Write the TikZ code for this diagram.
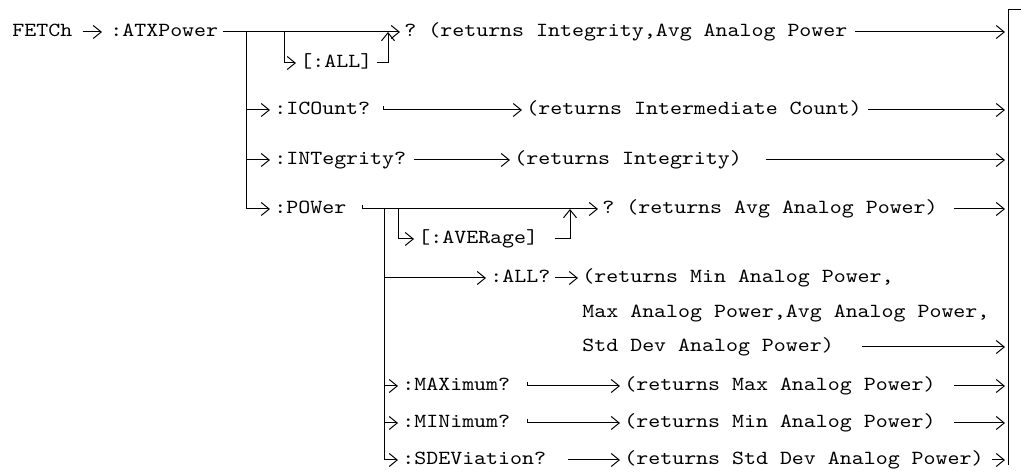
\documentclass[tikz,border=0pt]{standalone}
\usepackage{fontspec}
\newfontfamily\cmdfont{lmmono10-regular.otf}[FakeStretch=1.14]
\usetikzlibrary{arrows.meta,calc}

\begin{document}
\begin{tikzpicture}[
  x=0.5pt, y=-0.5pt,
  cmd/.style={anchor=west,inner xsep=2pt,inner ysep=0pt,
              font=\cmdfont\fontsize{10pt}{12pt}\selectfont,
              text height=7pt,text depth=2.5pt},
  ln/.style={line width=0.5pt},
  ar/.style={ln,-{Straight Barb[length=4pt,width=6.5pt]}}
]
\useasboundingbox (0,0) rectangle (1021,474);

% FETCh:ATXPower branch
\node[cmd] (fetch) at (8,32) {FETCh};
\node[cmd] (atx) at (106,32) {:ATXPower};
\node[cmd] (allopt) at (296,63) {[:ALL]};
\node[cmd] (q1) at (400,32) {?};
\node[cmd] (ret1) at (424,32) {(returns Integrity,Avg Analog Power};
\node[cmd] (icount) at (270,110) {:ICOunt?};
\node[cmd] (ret2) at (522,110) {(returns Intermediate Count)};
\node[cmd] (integ) at (270,160) {:INTegrity?};
\node[cmd] (ret3) at (510,160) {(returns Integrity)};
\node[cmd] (power) at (270,209) {:POWer};
\node[cmd] (q2) at (598,209) {?};
\node[cmd] (ret4) at (622,209) {(returns Avg Analog Power)};

% :POWer subtree
\node[cmd] (aver) at (414,239) {[:AVERage]};
\node[cmd] (pall) at (486,278) {:ALL?};
\node[cmd] (ret5a) at (578,278) {(returns Min Analog Power,};
\node[cmd] (ret5b) at (578,313) {Max Analog Power,Avg Analog Power,};
\node[cmd] (ret5c) at (578,347) {Std Dev Analog Power)};
\node[cmd] (pmax) at (398,386) {:MAXimum?};
\node[cmd] (ret6) at (620,386) {(returns Max Analog Power)};
\node[cmd] (pmin) at (398,423) {:MINimum?};
\node[cmd] (ret7) at (620,423) {(returns Min Analog Power)};
\node[cmd] (psdev) at (398,460) {:SDEViation?};
\node[cmd] (ret8) at (620,460) {(returns Std Dev Analog Power)};

\coordinate (trunk) at (246,32);
\coordinate (allx) at (284,32);
\coordinate (allup) at (388,32);
\coordinate (sub) at (384,209);
\coordinate (averx) at (398,209);
\coordinate (averup) at (570,209);
\coordinate (fr) at (1005,0);
\coordinate (ftop) at (1008,10);
\coordinate (fbot) at (1008,465);
\coordinate (ftick) at (1021,10);

\draw[ar,shorten <=3pt,shorten >=2pt] (fetch) -- (atx);
\draw[ar] (atx) -- (q1);
\draw[ar] (allx) |- (allopt);
\draw[ar] (allopt.east) -| (allup);
\draw[ar] ([xshift=1.5pt]ret1.east) -- (ret1 -| fr);

\draw[ln] (trunk) -- (trunk |- power);
\draw[ar] (trunk |- icount) -- (icount);
\draw[ar] ($(icount.east)+(9,-4)$) -- ++(0,4) -- (ret2);
\draw[ar] ([xshift=1pt]ret2.east) -- (ret2 -| fr);
\draw[ar] (trunk |- integ) -- (integ);
\draw[ar] ([xshift=2pt]integ.east) -- (ret3);
\draw[ar] ([xshift=10pt]ret3.east) -- (ret3 -| fr);
\draw[ar] (trunk |- power) -- (power);
\draw[ar] ($(power.east)+(12,-4)$) -- ++(0,4) -- (q2);
\draw[ar] ([xshift=6pt]ret4.east) -- (ret4 -| fr);

\draw[ln] (sub) -- (sub |- psdev);
\draw[ar] (averx) |- (aver);
\draw[ar] ([xshift=6pt]aver.east) -| (averup);
\draw[ar] (sub |- pall) -- (pall);
\draw[ar] (pall) -- (ret5a);
\draw[ar] ([xshift=12pt]ret5c.east) -- (ret5c -| fr);
\draw[ar] (sub |- pmax) -- (pmax);
\draw[ar] ($(pmax.east)+(13,-4)$) -- ++(0,4) -- (ret6);
\draw[ar] ([xshift=7pt]ret6.east) -- (ret6 -| fr);
\draw[ar] (sub |- pmin) -- (pmin);
\draw[ar] ($(pmin.east)+(13,-4)$) -- ++(0,4) -- (ret7);
\draw[ar] ([xshift=7pt]ret7.east) -- (ret7 -| fr);
\draw[ar] (sub |- psdev) -- (psdev);
\draw[ar] ([xshift=9pt]psdev.east) -- (ret8);
\draw[ar] ([xshift=2pt]ret8.east) -- (ret8 -| fr);

% right rail
\draw[ln] (ftick) -- (ftop) -- (fbot);
\end{tikzpicture}
\end{document}
